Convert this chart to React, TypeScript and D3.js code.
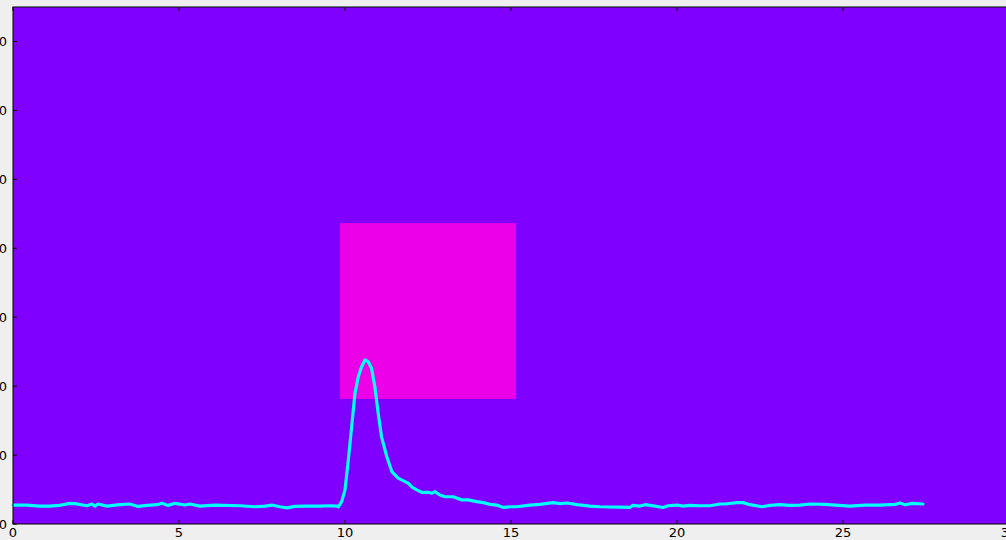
import React from "react";
import * as d3 from "d3";

const xTicks = [0, 5, 10, 15, 20, 25, 30];
const yTicks = [0, 200, 400, 600, 800, 1000, 1200, 1400];

const seriesX = [
  0, 0.4, 0.8, 1.1, 1.4, 1.72, 1.87, 2.23, 2.38, 2.47, 2.56, 2.83, 3.22, 3.52, 3.77, 4.04, 4.34, 4.49, 4.67, 4.88,
  5.18, 5.33, 5.63, 6.08, 6.84, 7.29, 7.59, 7.8, 8.04, 8.25, 8.49, 8.8, 9.25, 9.55, 9.76,
  9.8, 9.9, 10.0, 10.1, 10.2, 10.3, 10.4, 10.5, 10.6, 10.7, 10.8, 10.9, 11.0, 11.1, 11.26, 11.41, 11.6, 11.81, 11.91,
  12.01, 12.16, 12.31, 12.51, 12.61, 12.71, 12.86, 13.01, 13.26, 13.52, 13.71, 13.97, 14.17, 14.37, 14.57, 14.77,
  14.97, 15.17, 15.57, 15.87, 16.27, 16.48, 16.69, 16.99, 17.38, 17.68, 18.28, 18.58, 18.67, 18.89, 19.04, 19.34,
  19.58, 19.73, 20.0, 20.18, 20.39, 20.69, 20.99, 21.3, 21.45, 21.81, 21.99, 22.2, 22.56, 22.8, 23.1, 23.4, 23.7,
  24.0, 24.46, 24.76, 25.21, 25.66, 26.11, 26.57, 26.72, 26.87, 27.08, 27.41,
];
const seriesY = [
  55, 55, 52, 52, 54, 60, 59, 53, 58, 52, 58, 52, 56, 58, 51, 54, 56, 60, 54, 60,
  55, 58, 52, 55, 53, 50, 52, 55, 50, 47, 51, 52, 52, 53, 52,
  50, 65, 99, 186, 282, 379, 427, 456, 476, 471, 452, 398, 321, 253, 195, 152, 133, 123, 118,
  108, 99, 92, 92, 89, 94, 84, 79, 79, 70, 70, 65, 62, 57, 55, 48,
  50, 50, 55, 57, 62, 59, 61, 56, 52, 50, 49, 48, 54, 52, 56, 52,
  48, 53, 55, 52, 54, 53, 53, 58, 58, 62, 62, 56, 50, 54, 56, 54, 55,
  58, 57, 55, 52, 55, 55, 57, 61, 56, 60, 58,
];

const boxX = [9.85, 15.15];
const boxY = [363, 873];

export default function App() {
  const W = 1006;
  const H = 540;
  const left = 13;
  const top = 7;
  const right = 1009;
  const bottom = 524;

  const x = d3.scaleLinear().domain([0, 30]).range([left, right]);
  const y = d3.scaleLinear().domain([0, 1500]).range([bottom, top]);

  const pts: [number, number][] = seriesX.map((v, i) => [v, seriesY[i]]);
  const line = d3
    .line<[number, number]>()
    .x((d) => x(d[0]))
    .y((d) => y(d[1]));

  const font = "'DejaVu Sans', sans-serif";

  return (
    <div style={{ position: "absolute", left: 0, top: 0, width: W, height: H, overflow: "hidden" }}>
      <svg width={W} height={H} style={{ display: "block" }}>
        <rect x={0} y={0} width={W} height={H} fill="#efefef" />
        <rect x={left} y={top} width={right - left} height={bottom - top} fill="#7f00ff" />
        <rect
          x={x(boxX[0])}
          y={y(boxY[1])}
          width={x(boxX[1]) - x(boxX[0])}
          height={y(boxY[0]) - y(boxY[1])}
          fill="#ec00e8"
        />
        <path
          d={line(pts) || ""}
          fill="none"
          stroke="#00ffff"
          strokeWidth={3.2}
          strokeLinejoin="round"
          strokeLinecap="round"
        />
        <rect
          x={left}
          y={top}
          width={right - left}
          height={bottom - top}
          fill="none"
          stroke="#000"
          strokeWidth={1}
        />
        {xTicks.map((t) => (
          <g key={"x" + t}>
            <line x1={x(t)} x2={x(t)} y1={bottom} y2={bottom - 4} stroke="#000" />
            <line x1={x(t)} x2={x(t)} y1={top} y2={top + 4} stroke="#000" />
            <text
              x={x(t)}
              y={537}
              textAnchor="middle"
              fontFamily={font}
              fontSize={13}
              fill="#000"
            >
              {t}
            </text>
          </g>
        ))}
        {yTicks.map((t) => (
          <g key={"y" + t}>
            <line x1={left} x2={left + 4} y1={y(t)} y2={y(t)} stroke="#000" />
            <text
              x={7}
              y={y(t)}
              dy="0.35em"
              textAnchor="end"
              fontFamily={font}
              fontSize={13}
              fill="#000"
            >
              {t}
            </text>
          </g>
        ))}
      </svg>
    </div>
  );
}
